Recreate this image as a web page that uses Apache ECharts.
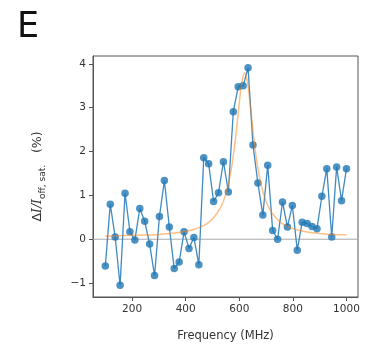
<!DOCTYPE html>
<html>
<head>
<meta charset="utf-8">
<script src="https://cdn.jsdelivr.net/npm/echarts@6/dist/echarts.min.js"></script>
<style>html,body{margin:0;padding:0;background:#fff}#c{width:366px;height:347px}#d{position:absolute;left:0;top:0;font:8px monospace;white-space:pre;color:rgba(0,0,0,0);pointer-events:none}</style>
</head>
<body>
<div id="c"></div><div id="d"></div>
<script>
// Measured frequencies (MHz)
var freq = [100, 118.4, 136.7, 155.1, 173.5, 191.8, 210.2, 228.6, 246.9, 265.3,
  283.7, 302.0, 320.4, 338.8, 357.1, 375.5, 393.9, 412.2, 430.6, 449.0,
  467.3, 485.7, 504.1, 522.4, 540.8, 559.2, 577.6, 595.9, 614.3, 632.7,
  651.0, 669.4, 687.8, 706.1, 724.5, 742.9, 761.2, 779.6, 798.0, 816.3,
  834.7, 853.1, 871.4, 889.8, 908.2, 926.5, 944.9, 963.3, 981.6, 1000];
// Measured signal (%)
var signal = [-0.61, 0.80, 0.05, -1.05, 1.05, 0.17, -0.02, 0.70, 0.41, -0.11,
  -0.83, 0.52, 1.34, 0.28, -0.67, -0.52, 0.17, -0.21, 0.04, -0.58,
  1.86, 1.72, 0.86, 1.06, 1.77, 1.08, 2.91, 3.48, 3.50, 3.91,
  2.15, 1.28, 0.55, 1.69, 0.20, 0.00, 0.85, 0.28, 0.77, -0.25,
  0.39, 0.36, 0.29, 0.24, 0.98, 1.61, 0.05, 1.65, 0.88, 1.61];
// Fit curve
var fitFreq = [100, 200, 300, 380, 430, 470, 500, 530, 550, 570, 585, 600, 610, 620,
  630, 640, 655, 670, 690, 710, 740, 770, 810, 860, 940, 1000];
var fitVal = [0.07, 0.09, 0.11, 0.16, 0.22, 0.32, 0.46, 0.72, 1.04, 1.60, 2.26, 3.11, 3.60, 3.80,
  3.60, 3.11, 2.26, 1.60, 1.04, 0.72, 0.46, 0.32, 0.22, 0.16, 0.11, 0.10];
var xTicks = [200, 400, 600, 800, 1000];
var yTicks = [-1, 0, 1, 2, 3, 4];
var xRange = [54, 1043];
var yRange = [-1.318, 4.18];

function pairs(a, b) { return a.map(function (v, i) { return [v, b[i]]; }); }

var chart = echarts.init(document.getElementById('c'), null, {renderer: 'canvas'});
var tickLabel = {color: '#333', fontSize: 10.5, fontFamily: 'DejaVu Sans'};
chart.setOption({
  animation: false,
  backgroundColor: '#fff',
  grid: {left: 93, right: 8, top: 56, bottom: 49, show: true, borderColor: '#555', borderWidth: 1, backgroundColor: 'transparent'},
  graphic: [{
    type: 'text', left: 17, top: 10,
    style: {text: 'E', fontSize: 35, fontFamily: 'DejaVu Sans', fill: '#111'}
  }],
  xAxis: {
    type: 'value', min: xRange[0], max: xRange[1],
    axisLine: {show: true, onZero: false, lineStyle: {color: '#555', width: 1}},
    axisTick: {show: true, length: 4, customValues: xTicks, lineStyle: {color: '#555'}},
    axisLabel: Object.assign({customValues: xTicks, margin: 7,
      formatter: function (v) { return String(v); }}, tickLabel),
    splitLine: {show: false},
    name: 'Frequency (MHz)', nameLocation: 'middle', nameGap: 33,
    nameTextStyle: {color: '#333', fontSize: 11.5, fontFamily: 'DejaVu Sans'}
  },
  yAxis: {
    type: 'value', min: yRange[0], max: yRange[1],
    axisLine: {show: true, onZero: false, lineStyle: {color: '#555', width: 1}},
    axisTick: {show: true, length: 4, customValues: yTicks, lineStyle: {color: '#555'}},
    axisLabel: Object.assign({customValues: yTicks, margin: 7,
      formatter: function (v) { return v < 0 ? '\u2212' + Math.abs(v) : String(v); }}, tickLabel),
    splitLine: {show: false},
    name: '{d|\u0394}{i|I/I}{s|off, sat.}{d|   (%)}', nameLocation: 'middle', nameGap: 46, nameRotate: 90,
    nameTextStyle: {
      color: '#333',
      rich: {
        d: {fontSize: 12.5, fontFamily: 'DejaVu Sans', color: '#333', lineHeight: 18, verticalAlign: 'middle'},
        i: {fontSize: 12.5, fontFamily: 'DejaVu Serif', fontStyle: 'italic', color: '#333', lineHeight: 18, verticalAlign: 'middle'},
        s: {fontSize: 9, fontFamily: 'DejaVu Sans', color: '#333', lineHeight: 18, verticalAlign: 'bottom'}
      }
    }
  },
  series: [{
    type: 'line', data: [[xRange[0], 0], [xRange[1], 0]], symbol: 'none', silent: true,
    lineStyle: {color: '#aaaaaa', width: 1}, z: 1
  }, {
    type: 'line', data: pairs(freq, signal), symbol: 'none', showSymbol: false,
    lineStyle: {color: '#3f8ac3', width: 1.3},
    z: 2
  }, {
    type: 'scatter', data: pairs(freq, signal), symbol: 'circle', symbolSize: 7.5,
    itemStyle: {color: '#1f77b4'},
    z: 3
  }, {
    type: 'line', data: pairs(fitFreq, fitVal), smooth: 0.4, symbol: 'none',
    lineStyle: {color: '#ff7f0e', width: 1.5, opacity: 0.5},
    z: 4
  }]
});
var out = [];
chart.getZr().storage.getDisplayList(true).forEach(function (el) {
  if (!el.shape || !el.shape.points) return;
  var s = el.type + ' n=' + el.shape.points.length + ' st=' + el.style.stroke + ' lw=' + el.style.lineWidth + ' op=' + el.style.opacity + ' z=' + el.z + ' zl=' + el.zlevel;
  if (el.ignore) s += ' IGN';
  if (el.invisible) s += ' INV';
  var p = el.shape.points; var q = [];
  for (var i = 0; i < Math.min(p.length, 6); i++) q.push(Math.round(p[i]));
  s += ' p=' + q.join(',');
  out.push(s);
});
document.getElementById('d').textContent = out.join('\n');
</script>
</body>
</html>
